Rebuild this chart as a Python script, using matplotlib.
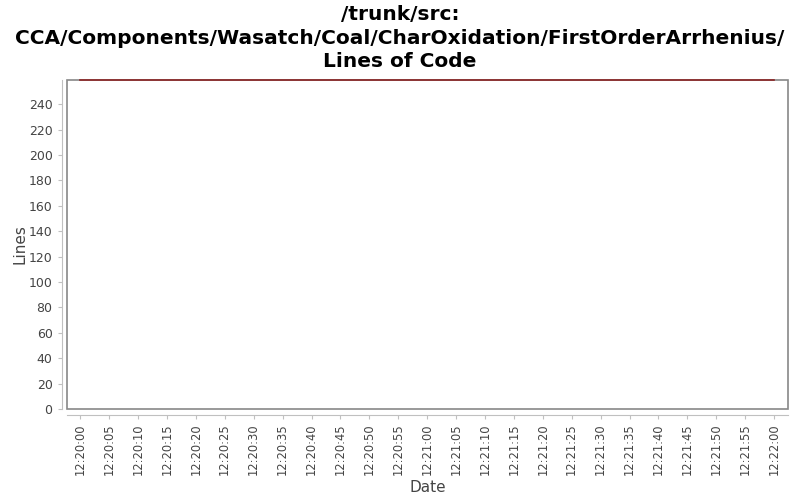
import numpy as np
import matplotlib
matplotlib.use("Agg")
import matplotlib.pyplot as plt
import matplotlib.dates as mdates
from datetime import datetime, timedelta

# data
dates = [datetime(2000, 1, 1, 12, 20, 0), datetime(2000, 1, 1, 12, 22, 0)]
lines = [259, 259]
tick_times = [datetime(2000, 1, 1, 12, 20, 0) + timedelta(seconds=5 * i) for i in range(25)]
tick_labels = [t.strftime("%H:%M:%S") for t in tick_times]
y_ticks = list(range(0, 260, 20))

fig = plt.figure(figsize=(8, 5), dpi=100)
ax = fig.add_axes([0.084, 0.182, 0.901, 0.658])

ax.plot(dates, lines, color="#8b2323", linewidth=1.2, clip_on=False, zorder=5)

# plot frame in grey, axis lines slightly outside in light grey
ax.patch.set_edgecolor("#888888")
ax.patch.set_linewidth(1.2)
for side in ["top", "right"]:
    ax.spines[side].set_visible(False)
for side in ["left", "bottom"]:
    ax.spines[side].set_position(("outward", 4))
    ax.spines[side].set_color("#c0c0c0")

ax.set_xlim(datetime(2000, 1, 1, 12, 20, 0) - timedelta(seconds=2.25),
            datetime(2000, 1, 1, 12, 22, 0) + timedelta(seconds=2.4))
ax.set_ylim(0, 259)
ax.set_xticks(tick_times)
ax.set_xticklabels(tick_labels, rotation=90)
ax.set_yticks(y_ticks)
ax.tick_params(colors="#444444", labelsize=9, length=3)
ax.tick_params(axis="x", labelsize=8.3)
ax.tick_params(axis="both", color="#c0c0c0")

ax.set_xlabel("Date", fontsize=11, color="#444444", labelpad=3)
ax.set_ylabel("Lines", fontsize=11, color="#444444", labelpad=1)

fig.suptitle("/trunk/src:\nCCA/Components/Wasatch/Coal/CharOxidation/FirstOrderArrhenius/\nLines of Code",
             fontsize=14.5, fontweight="bold", y=0.99, linespacing=1.3)

fig.savefig("out.png", dpi=100)
